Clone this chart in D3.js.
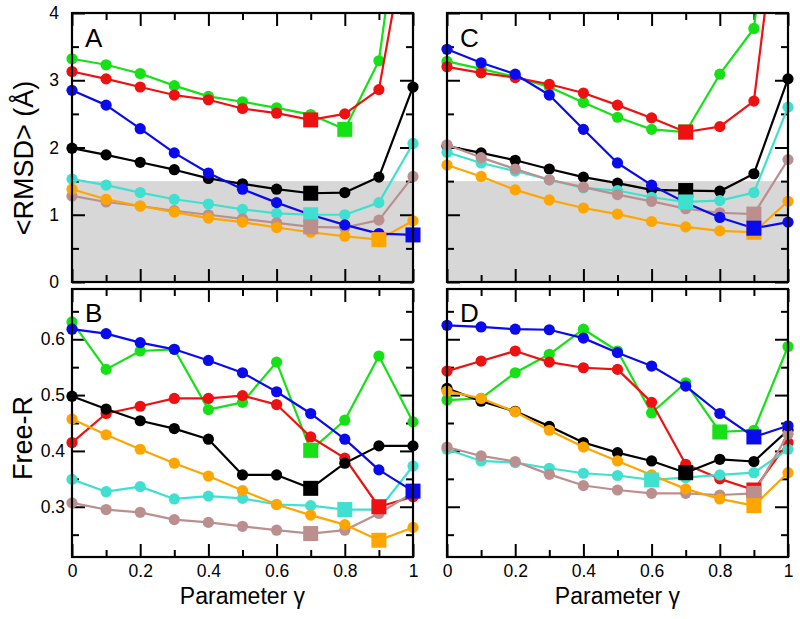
<!DOCTYPE html>
<html><head><meta charset="utf-8">
<script src="https://cdn.jsdelivr.net/npm/d3@7"></script>
<style>
body{margin:0;background:#fff}
svg{display:block}
text{font-family:"Liberation Sans",Arial,Helvetica,sans-serif;fill:#000}
</style>
</head><body>
<svg id="chart" width="800" height="619"></svg>
<script>
// ---------------- DATA ----------------
const gammas = [0, 0.1, 0.2, 0.3, 0.4, 0.5, 0.6, 0.7, 0.8, 0.9, 1.0];
const seriesKeys = ["green", "red", "black", "cyan", "rosybrown", "orange", "blue"];
const seriesColors = ["#16e016", "#ee1111", "#000000", "#40e0d0", "#bc8f8f", "#ffa500", "#0a0aee"];

const xTickLabels = ["0", "0.2", "0.4", "0.6", "0.8", "1"];
const rmsdTicks = [0, 1, 2, 3, 4];
const freeRTicks = [0.3, 0.4, 0.5, 0.6];
const rmsdShadeMax = 1.5;

// Panel A : <RMSD>
const A_green  = [3.32, 3.23, 3.10, 2.92, 2.76, 2.68, 2.59, 2.49, 2.27, 3.29, 7.0];
const A_red    = [3.13, 3.02, 2.90, 2.78, 2.71, 2.58, 2.51, 2.41, 2.50, 2.86, 5.7];
const A_black  = [1.99, 1.89, 1.78, 1.67, 1.54, 1.46, 1.38, 1.32, 1.33, 1.56, 2.90];
const A_cyan   = [1.53, 1.44, 1.33, 1.23, 1.16, 1.08, 1.02, 1.00, 1.00, 1.18, 2.06];
const A_rosy   = [1.28, 1.19, 1.13, 1.06, 1.00, 0.94, 0.88, 0.82, 0.81, 0.92, 1.57];
const A_orange = [1.38, 1.23, 1.13, 1.04, 0.95, 0.89, 0.81, 0.74, 0.68, 0.63, 0.91];
const A_blue   = [2.85, 2.63, 2.28, 1.92, 1.62, 1.38, 1.18, 1.00, 0.85, 0.72, 0.70];
const A_best   = [8, 7, 7, 7, 7, 9, 10];

// Panel B : Free-R
const B_green  = [0.631, 0.546, 0.579, 0.582, 0.474, 0.487, 0.559, 0.401, 0.455, 0.570, 0.452];
const B_red    = [0.415, 0.467, 0.480, 0.494, 0.494, 0.499, 0.483, 0.425, 0.387, 0.300, 0.318];
const B_black  = [0.498, 0.475, 0.454, 0.440, 0.421, 0.357, 0.357, 0.333, 0.378, 0.409, 0.409];
const B_cyan   = [0.349, 0.327, 0.336, 0.314, 0.319, 0.315, 0.304, 0.302, 0.295, 0.295, 0.373];
const B_rosy   = [0.307, 0.295, 0.290, 0.277, 0.272, 0.265, 0.258, 0.252, 0.258, 0.288, 0.325];
const B_orange = [0.457, 0.429, 0.403, 0.378, 0.355, 0.329, 0.304, 0.285, 0.268, 0.240, 0.263];
const B_blue   = [0.618, 0.610, 0.594, 0.582, 0.562, 0.540, 0.506, 0.467, 0.421, 0.366, 0.328];
const B_best   = [7, 9, 7, 8, 7, 9, 10];

// Panel C : <RMSD>
const C_green  = [3.28, 3.17, 3.05, 2.90, 2.67, 2.45, 2.27, 2.23, 3.09, 3.77, 8.0];
const C_red    = [3.20, 3.11, 3.04, 2.94, 2.81, 2.63, 2.44, 2.23, 2.31, 2.69, 6.8];
const C_black  = [2.02, 1.92, 1.81, 1.68, 1.56, 1.47, 1.37, 1.36, 1.35, 1.61, 3.02];
const C_cyan   = [1.93, 1.77, 1.65, 1.52, 1.40, 1.36, 1.26, 1.19, 1.21, 1.33, 2.60];
const C_rosy   = [2.04, 1.85, 1.68, 1.52, 1.41, 1.30, 1.20, 1.09, 1.03, 1.01, 1.82];
const C_orange = [1.74, 1.57, 1.37, 1.22, 1.10, 1.01, 0.90, 0.82, 0.76, 0.74, 1.20];
const C_blue   = [3.46, 3.26, 3.09, 2.78, 2.27, 1.77, 1.44, 1.18, 0.96, 0.80, 0.89];
const C_best   = [7, 7, 7, 7, 9, 9, 9];

// Panel D : Free-R
const D_green  = [0.491, 0.494, 0.540, 0.573, 0.618, 0.579, 0.468, 0.522, 0.434, 0.437, 0.587];
const D_red    = [0.543, 0.561, 0.579, 0.559, 0.549, 0.546, 0.487, 0.376, 0.350, 0.330, 0.415];
const D_black  = [0.512, 0.489, 0.471, 0.444, 0.415, 0.397, 0.382, 0.361, 0.385, 0.381, 0.437];
const D_cyan   = [0.403, 0.382, 0.379, 0.369, 0.360, 0.356, 0.348, 0.352, 0.357, 0.361, 0.403];
const D_rosy   = [0.407, 0.391, 0.381, 0.358, 0.338, 0.330, 0.324, 0.324, 0.321, 0.324, 0.430];
const D_orange = [0.507, 0.494, 0.470, 0.437, 0.407, 0.382, 0.357, 0.332, 0.314, 0.302, 0.361];
const D_blue   = [0.625, 0.622, 0.618, 0.617, 0.602, 0.576, 0.552, 0.516, 0.467, 0.425, 0.445];
const D_best   = [8, 9, 7, 6, 9, 9, 9];

// ---------------- LAYOUT ----------------
const svg = d3.select("#chart");
const colLeft = [72, 447], colWidth = 341;
const rowTop = [13, 289], rowHeight = [269, 268];

const panels = [
  {label: "A", col: 0, row: 0, kind: "rmsd", series: [A_green, A_red, A_black, A_cyan, A_rosy, A_orange, A_blue], best: A_best},
  {label: "B", col: 0, row: 1, kind: "freer", series: [B_green, B_red, B_black, B_cyan, B_rosy, B_orange, B_blue], best: B_best},
  {label: "C", col: 1, row: 0, kind: "rmsd", series: [C_green, C_red, C_black, C_cyan, C_rosy, C_orange, C_blue], best: C_best},
  {label: "D", col: 1, row: 1, kind: "freer", series: [D_green, D_red, D_black, D_cyan, D_rosy, D_orange, D_blue], best: D_best}
];

const majorLen = 13, minorLen = 7;

panels.forEach((p, pi) => {
  const x0 = colLeft[p.col], y0 = rowTop[p.row], w = colWidth, h = rowHeight[p.row];
  const x = d3.scaleLinear().domain([0, 1]).range([0, w]);
  const y = p.kind === "rmsd"
    ? d3.scaleLinear().domain([0, 4]).range([h, 0])
    : d3.scaleLinear().domain([0.21, 0.69]).range([h, 0]);

  const g = svg.append("g").attr("transform", `translate(${x0},${y0})`);
  const clipId = "clip" + pi;
  g.append("clipPath").attr("id", clipId).append("rect")
    .attr("x", -10).attr("y", 0).attr("width", w + 20).attr("height", h);

  // shaded region
  if (p.kind === "rmsd") {
    g.append("rect").attr("x", 0).attr("width", w)
      .attr("y", y(rmsdShadeMax)).attr("height", y(0) - y(rmsdShadeMax))
      .attr("fill", "#d7d7d7");
  }

  // ticks
  const xMajor = [0, 0.2, 0.4, 0.6, 0.8, 1];
  const xMinor = [0.1, 0.3, 0.5, 0.7, 0.9];
  let yMajor, yMinor;
  if (p.kind === "rmsd") { yMajor = rmsdTicks; yMinor = [0.5, 1.5, 2.5, 3.5]; }
  else { yMajor = freeRTicks; yMinor = [0.25, 0.35, 0.45, 0.55, 0.65]; }

  const styleAxis = sel => {
    sel.select(".domain").remove();
    sel.selectAll("line").attr("stroke", "#000").attr("stroke-width", 2);
    sel.selectAll("text").attr("font-size", 17.5).attr("fill", "#000")
      .attr("font-family", '"Liberation Sans",Arial,sans-serif');
  };

  const isBottomRow = p.row === 1;
  // bottom axis
  g.append("g").attr("transform", `translate(0,${h})`)
    .call(d3.axisBottom(x).tickValues(xMajor).tickSize(-majorLen).tickPadding(8)
      .tickFormat((d, i) => isBottomRow ? xTickLabels[i] : ""))
    .call(styleAxis);
  g.append("g").attr("transform", `translate(0,${h})`)
    .call(d3.axisBottom(x).tickValues(xMinor).tickSize(-minorLen).tickFormat(""))
    .call(styleAxis);
  // top axis
  g.append("g").call(d3.axisTop(x).tickValues(xMajor).tickSize(-majorLen).tickFormat("")).call(styleAxis);
  g.append("g").call(d3.axisTop(x).tickValues(xMinor).tickSize(-minorLen).tickFormat("")).call(styleAxis);
  // left axis
  const showY = p.col === 0;
  const padY = p.kind === "rmsd" ? 13 : 7;
  g.append("g")
    .call(d3.axisLeft(y).tickValues(yMajor).tickSize(-majorLen).tickPadding(padY)
      .tickFormat(d => showY ? String(d) : ""))
    .call(styleAxis);
  g.append("g").call(d3.axisLeft(y).tickValues(yMinor).tickSize(-minorLen).tickFormat("")).call(styleAxis);
  // right axis
  g.append("g").attr("transform", `translate(${w},0)`)
    .call(d3.axisRight(y).tickValues(yMajor).tickSize(-majorLen).tickFormat("")).call(styleAxis);
  g.append("g").attr("transform", `translate(${w},0)`)
    .call(d3.axisRight(y).tickValues(yMinor).tickSize(-minorLen).tickFormat("")).call(styleAxis);

  // data
  const dg = g.append("g").attr("clip-path", `url(#${clipId})`);
  const line = d3.line().x((d, i) => x(gammas[i])).y(d => y(d));
  p.series.forEach((vals, si) => {
    const col = seriesColors[si];
    dg.append("path").datum(vals).attr("d", line)
      .attr("fill", "none").attr("stroke", col).attr("stroke-width", 2.2)
      .attr("stroke-linejoin", "round");
    dg.selectAll(null).data(vals.map((v, i) => ({v, i})).filter(d => d.i !== p.best[si]))
      .enter().append("circle")
      .attr("cx", d => x(gammas[d.i])).attr("cy", d => y(d.v)).attr("r", 5.6)
      .attr("fill", col);
  });
  p.series.forEach((vals, si) => {
    const bi = p.best[si];
    dg.append("rect")
      .attr("x", x(gammas[bi]) - 7.5).attr("y", y(vals[bi]) - 7.5)
      .attr("width", 15).attr("height", 15).attr("fill", seriesColors[si]);
  });

  // frame
  g.append("rect").attr("x", 0).attr("y", 0).attr("width", w).attr("height", h)
    .attr("fill", "none").attr("stroke", "#000").attr("stroke-width", 2.2);

  // panel label
  g.append("text").attr("x", 13).attr("y", p.row === 0 ? 34 : 33)
    .attr("font-size", 26).text(p.label);
});

// axis titles
svg.append("text").attr("transform", "translate(33,158) rotate(-90)")
  .attr("text-anchor", "middle").attr("font-size", 27).text("<RMSD> (Å)");
svg.append("text").attr("transform", "translate(32,438) rotate(-90)")
  .attr("text-anchor", "middle").attr("font-size", 27).text("Free-R");
svg.append("text").attr("x", colLeft[0] + colWidth / 2).attr("y", 604)
  .attr("text-anchor", "middle").attr("font-size", 23).text("Parameter γ");
svg.append("text").attr("x", colLeft[1] + colWidth / 2).attr("y", 604)
  .attr("text-anchor", "middle").attr("font-size", 23).text("Parameter γ");
</script>
</body></html>
